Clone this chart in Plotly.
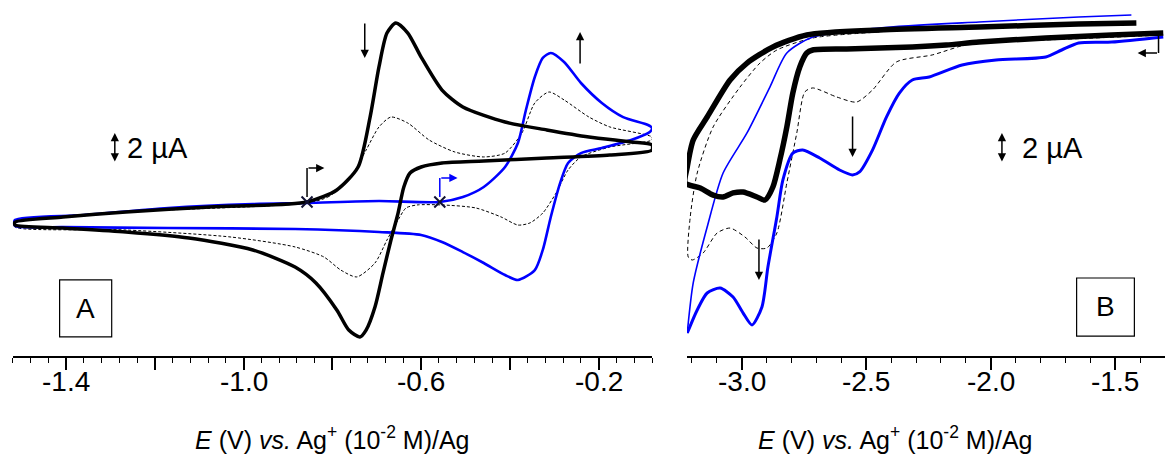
import plotly.graph_objects as go

# ---------------- Panel A data (E in V, I in uA, arbitrary offset) ----------------
a_black_E = [-0.857, -0.790, -0.742, -0.715, -0.695, -0.677, -0.657, -0.630, -0.600, -0.553, -0.506,
             -0.411, -0.317, -0.222, -0.127, -0.080,
             -0.080, -0.175, -0.317, -0.459, -0.553, -0.600, -0.625, -0.639, -0.652, -0.668, -0.686,
             -0.704, -0.724, -0.738, -0.763, -0.790, -0.837, -0.884, -0.979, -1.123, -1.265, -1.407, -1.515,
             -1.515, -1.407, -1.265, -1.076, -0.857]
a_black_I = [0.07, 0.87, 2.4, 5.73, 9.07, 11.33, 12.0, 11.33, 9.73, 7.53, 6.4,
             5.4, 4.87, 4.4, 4.07, 3.87,
             3.53, 3.2, 3.0, 2.8, 2.67, 2.4, 2.0, 1.07, -0.67, -2.47, -4.67,
             -6.93, -8.47, -8.93, -8.47, -7.13, -5.33, -4.27, -3.13, -2.33, -1.93, -1.67, -1.47,
             -1.27, -0.93, -0.6, -0.27, 0.07]

a_blue_E = [-0.558, -0.506, -0.459, -0.411, -0.382, -0.364, -0.344, -0.326, -0.308, -0.278, -0.240,
            -0.193, -0.145, -0.089, -0.080,
            -0.085, -0.127, -0.193, -0.240, -0.269, -0.287, -0.308, -0.326, -0.344, -0.382, -0.411,
            -0.459, -0.506, -0.553, -0.600, -0.695, -0.884, -1.170, -1.407, -1.515,
            -1.515, -1.359, -1.170, -0.979, -0.857, -0.695, -0.558]
a_blue_I = [0.07, 0.4, 1.07, 2.4, 4.0, 6.2, 8.4, 9.67, 10.0, 9.4, 8.0,
            6.67, 5.73, 5.2, 5.0,
            4.73, 4.2, 3.67, 3.33, 2.67, 1.33, -0.93, -3.13, -4.47, -5.13, -4.8,
            -4.0, -3.27, -2.6, -2.13, -1.93, -1.73, -1.67, -1.6, -1.53,
            -1.13, -0.8, -0.33, -0.07, 0.0, 0.13, 0.07]

a_dash_E = [-0.857, -0.810, -0.763, -0.724, -0.695, -0.668, -0.630, -0.582, -0.524, -0.459, -0.411,
            -0.373, -0.344, -0.312, -0.278, -0.222, -0.175, -0.080,
            -0.080, -0.175, -0.240, -0.269, -0.296, -0.326, -0.355, -0.382, -0.420, -0.477, -0.553,
            -0.609, -0.634, -0.652, -0.677, -0.704, -0.745, -0.781, -0.819, -0.884, -1.028, -1.265, -1.515,
            -1.515, -1.265, -0.857]
a_dash_I = [0.0, 0.4, 1.53, 3.53, 5.07, 5.73, 5.33, 4.2, 3.4, 3.07, 3.33,
            4.67, 6.67, 7.4, 6.87, 5.73, 5.07, 4.4,
            4.2, 3.73, 3.07, 2.2, 0.67, -0.67, -1.33, -1.47, -0.93, -0.33, -0.13,
            -0.13, -0.33, -1.13, -2.47, -4.0, -4.93, -4.47, -3.6, -2.93, -2.27, -1.8, -1.6,
            -1.27, -0.6, 0.0]

a_start_E = [-0.857, -0.558]
a_start_I = [0.07, 0.07]

# ---------------- Panel B data ----------------
b_black_E = [-1.307, -1.514, -1.779, -2.047, -2.179, -2.315, -2.579, -2.715, -2.739, -2.767, -2.795,
             -2.819, -2.847, -2.875, -2.907, -2.939, -2.995, -3.035, -3.075, -3.115, -3.167, -3.227,
             -3.219, -3.195, -3.139, -3.047, -2.979, -2.875, -2.739, -2.447, -2.047, -1.647, -1.415]
b_black_I = [11.33, 11.2, 11.0, 10.73, 10.53, 10.4, 10.27, 10.2, 10.0, 9.07, 7.33,
             5.07, 2.87, 1.07, 0.2, 0.4, 0.73, 0.67, 0.4, 0.53, 1.0, 1.33,
             2.4, 4.2, 5.73, 8.2, 9.33, 10.4, 11.2, 11.53, 11.73, 11.93, 12.0]

b_blue_fwd_E = [-1.307, -1.514, -1.647, -1.715, -1.779, -1.979, -2.115, -2.247, -2.315, -2.367, -2.419,
                -2.475, -2.527, -2.555, -2.607, -2.687, -2.755, -2.795, -2.835, -2.859, -2.895, -2.919,
                -2.959, -2.995, -3.035, -3.087, -3.139, -3.179, -3.219]
b_blue_fwd_I = [11.07, 10.73, 10.67, 10.2, 9.73, 9.53, 9.2, 8.4, 8.2, 7.33, 5.73,
                3.53, 2.07, 1.87, 2.2, 3.0, 3.53, 3.33, 1.53, -0.93, -4.27, -6.93,
                -8.13, -7.33, -6.27, -5.67, -6.0, -7.13, -8.67]
b_blue_rev_E = [-3.219, -3.195, -3.139, -3.075, -2.979, -2.887, -2.819, -2.715, -2.447, -2.047, -1.647, -1.435]
b_blue_rev_I = [-8.67, -5.33, -1.6, 2.0, 4.67, 7.73, 10.0, 11.07, 11.67, 12.07, 12.4, 12.53]

b_dash_E = [-1.307, -1.779, -2.059, -2.235, -2.379, -2.475, -2.539, -2.619, -2.715, -2.747, -2.779,
            -2.819, -2.859, -2.899, -2.939, -2.987, -3.047, -3.099, -3.155, -3.199, -3.215,
            -3.207, -3.179, -3.115, -3.007, -2.927, -2.859, -2.715, -2.447]
b_dash_I = [11.2, 10.87, 10.73, 9.87, 9.4, 7.53, 6.73, 7.07, 7.67, 7.4, 4.67,
            1.33, -2.0, -3.0, -3.0, -2.27, -1.67, -2.0, -3.33, -3.8, -3.6,
            -0.93, 2.0, 5.07, 7.73, 9.33, 10.2, 11.0, 11.4]

# ticks and tick labels
a_tickvals = [-1.4, -1.2, -1.0, -0.8, -0.6, -0.4, -0.2]
a_labelvals = [-1.4, -1.0, -0.6, -0.2]
a_labeltext = ['-1.4', '-1.0', '-0.6', '-0.2']
b_tickvals = [-3.0, -2.5, -2.0, -1.5]
b_labeltext = ['-3.0', '-2.5', '-2.0', '-1.5']

BLUE = '#0000ff'
fig = go.Figure()


def add(E, I, color, width, dash, ax):
    fig.add_trace(go.Scatter(
        x=E, y=I, mode='lines', xaxis='x' if ax == 1 else 'x2', yaxis='y' if ax == 1 else 'y2',
        line=dict(color=color, width=width, dash=dash, shape='spline', smoothing=0.7),
        hoverinfo='skip', showlegend=False))


add(a_dash_E, a_dash_I, 'black', 1, '3px,2px', 1)
add(a_blue_E, a_blue_I, BLUE, 2.6, 'solid', 1)
add(a_black_E, a_black_I, 'black', 3.5, 'solid', 1)
fig.add_trace(go.Scatter(x=a_start_E, y=a_start_I, mode='markers', xaxis='x', yaxis='y',
                         marker=dict(symbol='x-thin', size=11, line=dict(width=2, color='#111133')),
                         hoverinfo='skip', showlegend=False))

add(b_dash_E, b_dash_I, 'black', 1, '4px,3px', 2)
add(b_blue_rev_E, b_blue_rev_I, BLUE, 1.6, 'solid', 2)
add(b_blue_fwd_E, b_blue_fwd_I, BLUE, 3, 'solid', 2)
add(b_black_E, b_black_I, 'black', 5.5, 'solid', 2)

FONT = 'Liberation Sans, Arial, sans-serif'
YR = [-10.2, 13.533]


def xax(domain, rng, tv, minor_vals, anchor):
    return dict(domain=domain, range=rng, anchor=anchor, showline=True, linecolor='black', linewidth=1.5,
                ticks='outside', ticklen=12, tickwidth=1.5, tickcolor='black',
                tickmode='array', tickvals=tv, showticklabels=False,
                showgrid=False, zeroline=False,
                minor=dict(tickmode='array', tickvals=minor_vals, ticks='outside', ticklen=5,
                           tickwidth=1.2, tickcolor='black', showgrid=False))


a_minor = [round(-1.52 + 0.04 * k, 2) for k in range(37)]
b_minor = [round(-3.2 + 0.1 * k, 1) for k in range(19)]

fig.update_layout(
    width=1165, height=454, margin=dict(l=0, r=0, t=0, b=98),
    paper_bgcolor='white', plot_bgcolor='white', showlegend=False,
    font=dict(family=FONT, color='black'),
    xaxis=xax([12.7 / 1165, 652 / 1165], [-1.52, -0.08], a_tickvals, a_minor, 'y'),
    xaxis2=xax([687 / 1165, 1.0], [-3.22, -1.30], b_tickvals, b_minor, 'y2'),
    yaxis=dict(range=YR, visible=False, anchor='x'),
    yaxis2=dict(range=YR, visible=False, anchor='x2'),
)

ann = []
shapes = []


def arrow(x0, y0, x1, y1, xr, yr, color='black', both=False):
    ann.append(dict(x=x1, y=y1, ax=x0, ay=y0, xref=xr, yref=yr, axref=xr, ayref=yr, text='',
                    showarrow=True, arrowhead=2, arrowsize=1.1, arrowwidth=1.5, arrowcolor=color,
                    arrowside='end+start' if both else 'end', startarrowhead=2, startarrowsize=1.1,
                    standoff=0, startstandoff=0))


def text(x, y, s, xr, yr, size=29, xanchor='left'):
    ann.append(dict(x=x, y=y, xref=xr, yref=yr, text=s, showarrow=False, xanchor=xanchor,
                    yanchor='middle', font=dict(size=size, family=FONT, color='black')))


# tick labels as text below each axis
LAB_Y = -(381 - 356) / 356
for v, t in zip(a_labelvals, a_labeltext):
    ann.append(dict(x=v, y=LAB_Y, xref='x', yref='paper', text=t, showarrow=False, xanchor='center',
                    yanchor='middle', font=dict(size=28, family=FONT, color='black')))
for v, t in zip(b_tickvals, b_labeltext):
    ann.append(dict(x=v, y=LAB_Y, xref='x2', yref='paper', text=t, showarrow=False, xanchor='center',
                    yanchor='middle', font=dict(size=28, family=FONT, color='black')))

# Panel A annotations
arrow(-0.727, 12.07, -0.727, 9.67, 'x', 'y')
arrow(-0.242, 9.2, -0.242, 11.4, 'x', 'y')
arrow(-1.290, 2.67, -1.290, 4.67, 'x', 'y', both=True)
text(-1.266, 3.67, '2 µA', 'x', 'y')
shapes.append(dict(type='line', xref='x', yref='y', x0=-0.857, x1=-0.857, y0=0.4, y1=2.33,
                   line=dict(color='black', width=1.5)))
arrow(-0.857, 2.33, -0.818, 2.33, 'x', 'y')
shapes.append(dict(type='line', xref='x', yref='y', x0=-0.558, x1=-0.558, y0=0.4, y1=1.67,
                   line=dict(color=BLUE, width=1.5)))
arrow(-0.558, 1.67, -0.518, 1.67, 'x', 'y', color=BLUE)
shapes.append(dict(type='rect', xref='x', yref='y', x0=-1.4143, x1=-1.297, y0=-5.13, y1=-8.93,
                   line=dict(color='black', width=1.2)))
text(-1.356, -7.0, 'A', 'x', 'y', size=28, xanchor='center')

# Panel B annotations
arrow(-2.555, 5.87, -2.555, 3.07, 'x2', 'y2')
arrow(-2.931, -2.33, -2.931, -5.13, 'x2', 'y2')
arrow(-1.955, 2.67, -1.955, 4.67, 'x2', 'y2', both=True)
text(-1.884, 3.67, '2 µA', 'x2', 'y2')
shapes.append(dict(type='line', xref='x2', yref='y2', x0=-1.326, x1=-1.326, y0=11.33, y1=10.0,
                   line=dict(color='black', width=1.5)))
arrow(-1.326, 10.0, -1.410, 10.0, 'x2', 'y2')
shapes.append(dict(type='rect', xref='x2', yref='y2', x0=-1.655, x1=-1.423, y0=-5.0, y1=-8.87,
                   line=dict(color='black', width=1.2)))
text(-1.539, -6.93, 'B', 'x2', 'y2', size=28, xanchor='center')

# axis titles
title = '<i>E</i> (V) <i>vs.</i> Ag<sup>+</sup> (10<sup>-2</sup> M)/Ag'
for xc in [332 / 1165, 895 / 1165]:
    ann.append(dict(x=xc, y=-(438 - 356) / 356, xref='paper', yref='paper', text=title, showarrow=False,
                    xanchor='center', yanchor='middle', font=dict(size=25, family=FONT, color='black')))

fig.update_layout(annotations=ann, shapes=shapes)
fig.write_html('out.html', post_script="document.body.style.margin='0px';",
               config={'displayModeBar': False})
